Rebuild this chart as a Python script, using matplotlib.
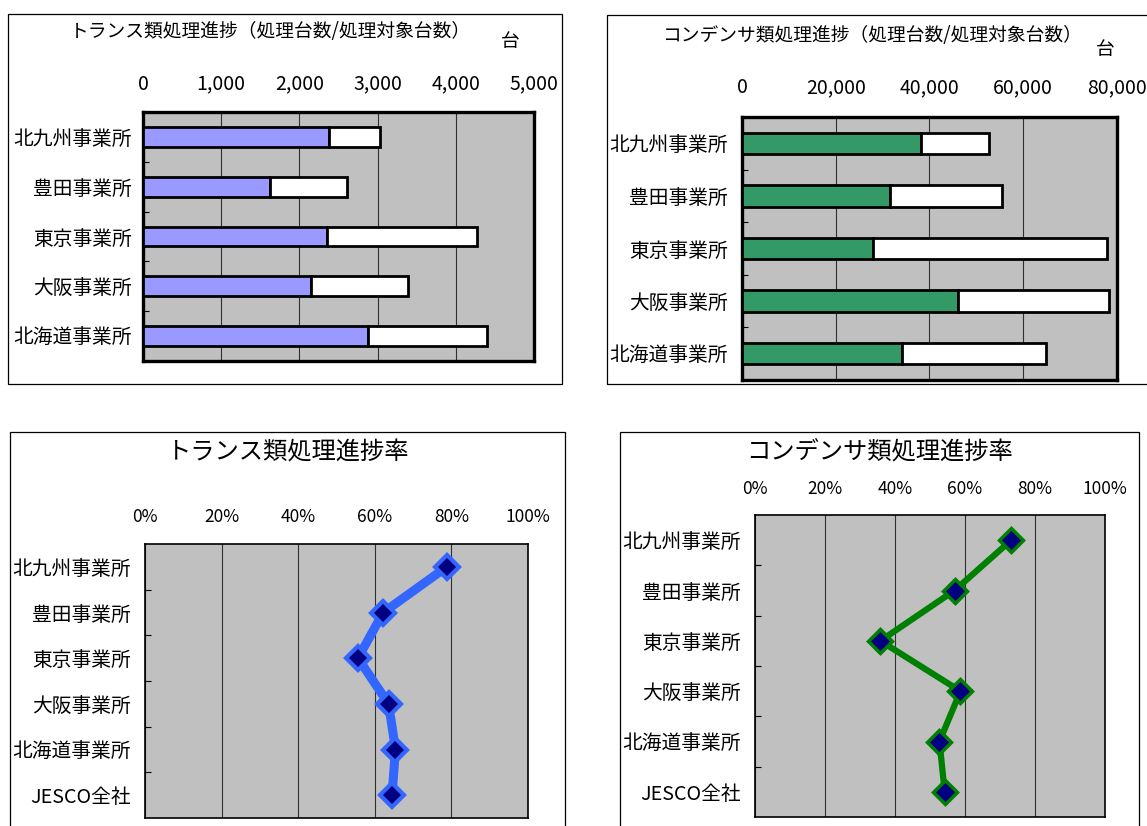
import matplotlib
matplotlib.use("Agg")
import matplotlib.pyplot as plt
from matplotlib.patches import Rectangle
from matplotlib.ticker import FuncFormatter, FixedLocator

plt.rcParams['font.family'] = ['Noto Sans CJK JP', 'DejaVu Sans']

# ---- data ----
offices = ["北九州事業所", "豊田事業所", "東京事業所", "大阪事業所", "北海道事業所"]
rate_labels = offices + ["JESCO全社"]

trans_done = [2373, 1618, 2359, 2145, 2872]
trans_target = [3030, 2611, 4270, 3394, 4396]

cond_done = [38240, 31530, 27880, 45990, 34060]
cond_target = [52620, 55530, 77890, 78260, 64770]

trans_rate = [78.8, 62.2, 55.6, 63.6, 65.4, 64.5]
cond_rate = [73.2, 57.0, 35.8, 58.7, 52.7, 54.2]

trans_ticks = [0, 1000, 2000, 3000, 4000, 5000]
cond_ticks = [0, 20000, 40000, 60000, 80000]
pct_ticks = [0, 20, 40, 60, 80, 100]

W, H = 1147, 826
fig = plt.figure(figsize=(W / 100, H / 100), dpi=100)
fig.patch.set_facecolor("white")


def frac(x0, y0, x1, y1):
    return [x0 / W, 1 - y1 / H, (x1 - x0) / W, (y1 - y0) / H]


def panel_box(x0, y0, x1, y1):
    r = Rectangle((x0 / W, 1 - y1 / H), (x1 - x0) / W, (y1 - y0) / H,
                  transform=fig.transFigure, facecolor="none",
                  edgecolor="black", linewidth=0.9, zorder=0)
    fig.patches.append(r)


def fig_text(x, y, s, size, **kw):
    fig.text(x / W, 1 - y / H, s, fontsize=size, ha=kw.pop("ha", "center"),
             va=kw.pop("va", "center"), **kw)


def style_axes(ax, frame_lw, n, xticks, fmt, xpad, ypad, xsize, ysize, labels):
    ax.set_zorder(2)
    ax.set_facecolor("#C0C0C0")
    for sp in ax.spines.values():
        sp.set_linewidth(frame_lw)
        sp.set_color("black")
    ax.xaxis.tick_top()
    ax.set_xticks(xticks)
    ax.xaxis.set_major_formatter(FuncFormatter(fmt))
    ax.tick_params(axis="x", length=0, pad=xpad, labelsize=xsize)
    ax.set_xlim(xticks[0], xticks[-1])
    ax.set_ylim(n - 0.5, -0.5)
    ax.set_yticks(range(n))
    ax.set_yticklabels(labels)
    ax.tick_params(axis="y", which="major", length=0, pad=ypad, labelsize=ysize)
    ax.yaxis.set_minor_locator(FixedLocator([i + 0.5 for i in range(n - 1)]))
    ax.tick_params(axis="y", which="minor", direction="in", length=4.5,
                   width=0.8, color="black")
    ax.grid(axis="x", color="#303030", linewidth=0.8)
    ax.set_axisbelow(True)


def thousands(v, _):
    return f"{int(v):,}"


def percent(v, _):
    return f"{int(v)}%"


# ---- panel frames ----
panel_box(8, 14, 562, 384)
panel_box(607, 15, 1175, 384)
panel_box(10, 432, 565, 860)
panel_box(620, 432, 1139, 860)

# ---- transformer counts ----
ax1 = fig.add_axes(frac(143, 112, 534, 361))
style_axes(ax1, 2.4, 5, trans_ticks, thousands, 12.5, 8, 14, 14.2, offices)
rest = [t - d for d, t in zip(trans_done, trans_target)]
ax1.barh(range(5), trans_done, height=0.4, color="#9999FF",
         edgecolor="black", linewidth=2.0, zorder=3)
ax1.barh(range(5), rest, left=trans_done, height=0.4, color="white",
         edgecolor="black", linewidth=2.0, zorder=3)
fig_text(270, 32, "トランス類処理進捗（処理台数/処理対象台数）", 13.5)
fig_text(510, 42, "台", 13.5)

# ---- capacitor counts ----
ax2 = fig.add_axes(frac(742, 117, 1117, 380))
style_axes(ax2, 2.4, 5, cond_ticks, thousands, 13.5, 10, 14, 14.2, offices)
rest2 = [t - d for d, t in zip(cond_done, cond_target)]
ax2.barh(range(5), cond_done, height=0.41, color="#339966",
         edgecolor="black", linewidth=2.0, zorder=3)
ax2.barh(range(5), rest2, left=cond_done, height=0.41, color="white",
         edgecolor="black", linewidth=2.0, zorder=3)
fig_text(872, 35, "コンデンサ類処理進捗（処理台数/処理対象台数）", 13.5)
fig_text(1105, 50, "台", 13.5)

# ---- transformer progress rate ----
ax3 = fig.add_axes(frac(145, 544, 528, 818))
style_axes(ax3, 1.2, 6, pct_ticks, percent, 13, 10, 12.5, 14.2, rate_labels)
ax3.plot(trans_rate, range(6), color="#3366FF", linewidth=6.5,
         marker="D", markersize=12.5, markerfacecolor="#000080",
         markeredgecolor="#3366FF", markeredgewidth=3, zorder=3,
         solid_joinstyle="round")
fig_text(288, 452, "トランス類処理進捗率", 17.5)

# ---- capacitor progress rate ----
ax4 = fig.add_axes(frac(755, 515, 1105, 817))
style_axes(ax4, 1.2, 6, pct_ticks, percent, 12, 10, 12.5, 14.2, rate_labels)
ax4.plot(cond_rate, range(6), color="#008000", linewidth=4.5,
         marker="D", markersize=12.5, markerfacecolor="#000080",
         markeredgecolor="#008000", markeredgewidth=2.5, zorder=3,
         solid_joinstyle="round")
fig_text(880, 452, "コンデンサ類処理進捗率", 17.5)

fig.savefig("out.png", dpi=100, facecolor="white")
